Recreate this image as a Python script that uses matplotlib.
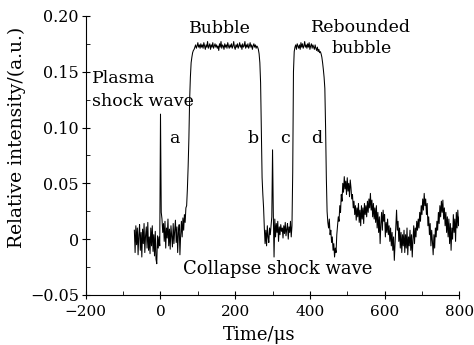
import numpy as np
import matplotlib.pyplot as plt

plt.rcParams['font.family'] = ['DejaVu Serif']
plt.rcParams['mathtext.fontset'] = 'dejavuserif'

# sampling of the photodetector trace (µs)
t_start = -70
t_step = 2

# relative intensity, one row per 20 µs
pre_trigger = [
    0.008, -0.012, 0.012, -0.005, 0.010, -0.014, 0.004, 0.013, -0.010, 0.006,
    -0.016, 0.009, -0.004, 0.014, -0.012, 0.003, 0.011, -0.008, 0.015, -0.010,
    0.002, -0.013, 0.010, -0.006, 0.012, -0.011, 0.004, -0.015, 0.007, -0.018,
]
plasma_shock = [
    -0.022, 0.003, -0.008, 0.002, -0.006, 0.112, 0.024, 0.018, 0.006, 0.014,
    -0.002, 0.016, -0.008, 0.010, 0.001, 0.018, -0.006, 0.009, -0.009, 0.012,
    0.003, -0.007, 0.014, -0.004, 0.008, 0.017, -0.003, 0.011, -0.012, 0.006,
    0.013, -0.014, 0.004, 0.016, 0.002, 0.019, 0.008, 0.022, 0.015, 0.028,
]
bubble = [
    0.030, 0.045, 0.065, 0.090, 0.125, 0.145, 0.158, 0.163, 0.167, 0.169,
    0.170, 0.172, 0.174, 0.171, 0.173, 0.176, 0.172, 0.174, 0.171, 0.175,
    0.172, 0.174, 0.171, 0.176, 0.173, 0.170, 0.174, 0.172, 0.177, 0.171,
    0.173, 0.175, 0.170, 0.174, 0.172, 0.176, 0.171, 0.173, 0.175, 0.172,
    0.174, 0.171, 0.173, 0.169, 0.175, 0.172, 0.177, 0.171, 0.174, 0.173,
    0.170, 0.175, 0.172, 0.174, 0.171, 0.176, 0.173, 0.171, 0.174, 0.172,
    0.175, 0.171, 0.173, 0.177, 0.172, 0.170, 0.174, 0.172, 0.175, 0.171,
    0.173, 0.176, 0.172, 0.174, 0.170, 0.175, 0.172, 0.173, 0.177, 0.171,
    0.174, 0.172, 0.175, 0.171, 0.173, 0.176, 0.172, 0.174, 0.170, 0.173,
    0.175, 0.172, 0.174, 0.171, 0.173, 0.172, 0.170, 0.166, 0.158, 0.140,
]
collapse = [
    0.095, 0.055, 0.040, 0.028, 0.010, -0.004, 0.008, -0.006, 0.012, 0.002,
    -0.003, 0.010, 0.004, 0.012, 0.020, 0.080, 0.024, -0.016, 0.018, 0.002,
    0.014, 0.006, 0.016, -0.002, 0.011, 0.004, 0.013, 0.007, 0.010, 0.001,
    0.012, 0.005, 0.015, 0.003, 0.009, 0.014, 0.000, 0.011, 0.006, 0.016,
]
rebound = [
    0.002, 0.012, 0.060, 0.150, 0.168, 0.172, 0.174, 0.170, 0.175, 0.173,
    0.171, 0.174, 0.170, 0.176, 0.172, 0.175, 0.171, 0.173, 0.177, 0.172,
    0.174, 0.171, 0.175, 0.172, 0.176, 0.170, 0.173, 0.175, 0.171, 0.174,
    0.172, 0.170, 0.174, 0.171, 0.169, 0.172, 0.168, 0.170, 0.167, 0.168,
    0.166, 0.163, 0.158, 0.152, 0.145, 0.135, 0.100, 0.055, 0.025, 0.015,
]
after_rebound = [
    0.010, 0.018, 0.004, 0.008, -0.003, 0.002, -0.010, -0.004, -0.016, -0.008,
    -0.012, 0.004, 0.012, 0.020, 0.016, 0.030, 0.024, 0.040, 0.034, 0.050,
    0.042, 0.056, 0.045, 0.052, 0.040, 0.055, 0.043, 0.050, 0.038, 0.053,
    0.046, 0.036, 0.040, 0.028, 0.034, 0.022, 0.030, 0.017, 0.028, 0.020,
    0.032, 0.015, 0.026, 0.012, 0.030, 0.018, 0.028, 0.014, 0.032, 0.022,
    0.030, 0.020, 0.034, 0.024, 0.036, 0.028, 0.041, 0.026, 0.035, 0.020,
    0.032, 0.018, 0.028, 0.015, 0.030, 0.010, 0.024, 0.006, 0.020, -0.004,
    0.014, 0.024, 0.008, 0.026, 0.016, 0.022, 0.002, 0.015, 0.006, 0.018,
    0.004, 0.012, -0.002, 0.010, -0.006, 0.006, -0.010, 0.002, -0.019, -0.004,
    0.012, 0.026, 0.008, 0.016, -0.002, 0.010, -0.008, 0.006, -0.012, 0.004,
    -0.006, 0.008, -0.012, 0.004, -0.008, 0.010, -0.014, 0.002, -0.006, 0.008,
    -0.010, 0.004, -0.016, 0.000, 0.012, -0.004, 0.010, 0.002, 0.016, 0.008,
    0.018, 0.010, 0.024, 0.016, 0.030, 0.022, 0.036, 0.026, 0.041, 0.030,
    0.036, 0.022, 0.032, 0.012, 0.020, 0.004, 0.014, -0.006, 0.008, -0.002,
    -0.014, 0.004, -0.008, 0.010, 0.002, 0.016, 0.008, 0.024, 0.014, 0.030,
    0.020, 0.034, 0.024, 0.035, 0.018, 0.028, 0.012, 0.024, 0.006, 0.020,
    0.002, 0.018, -0.004, 0.014, -0.010, 0.010, 0.000, 0.022, 0.006, 0.018,
    -0.002, 0.024, 0.010, 0.026, 0.012, 0.020,
]

intensity = np.array(pre_trigger + plasma_shock + bubble + collapse
                     + rebound + after_rebound)
time = t_start + t_step * np.arange(len(intensity))

xticks = [-200, 0, 200, 400, 600, 800]
xticklabels = ['\u2212200', '0', '200', '400', '600', '800']
yticks = [-0.05, 0, 0.05, 0.10, 0.15, 0.20]
yticklabels = ['\u22120.05', '0', '0.05', '0.10', '0.15', '0.20']

fig = plt.figure(figsize=(4.74, 3.45), dpi=100)
ax = fig.add_axes([0.181, 0.145, 0.788, 0.809])

ax.plot(time, intensity, color='black', lw=0.75)

ax.set_xlim(-200, 800)
ax.set_ylim(-0.05, 0.20)
ax.set_xticks(xticks, xticklabels)
ax.set_yticks(yticks, yticklabels)
ax.set_xticks(np.arange(-200, 801, 100), minor=True)
ax.set_yticks(np.arange(-0.05, 0.201, 0.025), minor=True)
ax.tick_params(which='major', direction='inout', length=6, width=0.8)
ax.tick_params(axis='x', which='major', pad=4, labelsize=11)
ax.tick_params(axis='y', which='major', pad=2, labelsize=11.5)
ax.tick_params(which='minor', direction='in', length=3, width=0.6)

for side in ['top', 'right']:
    ax.spines[side].set_visible(False)
for side in ['left', 'bottom']:
    ax.spines[side].set_linewidth(0.8)

ax.set_xlabel('Time/\u03bcs', fontsize=13)
ax.set_ylabel('Relative intensity/(a.u.)', fontsize=13.5)
ax.xaxis.set_label_coords(0.463, -0.112)
ax.yaxis.set_label_coords(-0.16, 0.566)

fs = 12.5
ax.text(-184, 0.144, 'Plasma', fontsize=fs, ha='left', va='center')
ax.text(-184, 0.123, 'shock wave', fontsize=fs, ha='left', va='center')
ax.text(159, 0.189, 'Bubble', fontsize=fs, ha='center', va='center')
ax.text(538, 0.190, 'Rebounded', fontsize=fs, ha='center', va='center')
ax.text(539, 0.171, 'bubble', fontsize=fs, ha='center', va='center')
ax.text(37, 0.090, 'a', fontsize=fs, ha='center', va='center')
ax.text(247, 0.090, 'b', fontsize=fs, ha='center', va='center')
ax.text(334, 0.090, 'c', fontsize=fs, ha='center', va='center')
ax.text(417, 0.090, 'd', fontsize=fs, ha='center', va='center')
ax.text(313, -0.027, 'Collapse shock wave', fontsize=13,
        ha='center', va='center')

fig.savefig('out.png', dpi=100)
